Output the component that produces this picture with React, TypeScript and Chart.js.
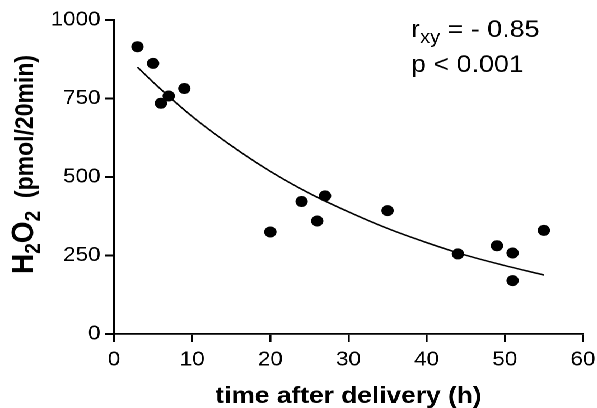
import { useEffect, useRef } from "react";
import { Chart, registerables } from "chart.js";

Chart.register(...registerables);

// Measured points
const timeHours = [3, 5, 6, 7, 9, 20, 24, 26, 27, 35, 44, 49, 51, 51, 55];
const h2o2Values = [915, 862, 735, 758, 782, 325, 422, 360, 440, 393, 255, 281, 258, 170, 330];

// Fitted curve
const fitTimes = [3, 5, 10, 15, 20, 25, 30, 35, 40, 45, 50, 55];
const fitValues = [850, 802, 693, 600, 518, 448, 389, 336, 291, 251, 218, 188];

// Tick labels
const xTicks = [0, 10, 20, 30, 40, 50, 60];
const yTicks = [0, 250, 500, 750, 1000];

const xTitle = "time after delivery (h)";
const statR = { main: "r", sub: "xy", rest: " = - 0.85" };
const statP = "p < 0.001";

const FONT = "'Liberation Sans', Arial, Helvetica, sans-serif";
const STRETCH = 1.12;
const W = 533;
const H = 408;

const textPlugin = {
  id: "customText",
  afterDraw(chart: any) {
    const ctx = chart.ctx as CanvasRenderingContext2D;
    const area = chart.chartArea;
    const xs = chart.scales.x;
    const ys = chart.scales.y;
    ctx.save();
    ctx.fillStyle = "#000";
    ctx.textBaseline = "alphabetic";
    ctx.textAlign = "left";

    // x title
    ctx.font = `bold 23.5px ${FONT}`;
    ctx.textAlign = "center";
    ctx.fillText(xTitle, (area.left + area.right) / 2, 403);
    ctx.textAlign = "left";

    // y title (rotated, with subscripts)
    ctx.save();
    ctx.translate(29.5, 274);
    ctx.rotate(-Math.PI / 2);
    const pieces = [
      { t: "H", s: 28, dy: 0 },
      { t: "2", s: 19, dy: 6 },
      { t: "O", s: 28, dy: 0 },
      { t: "2", s: 19, dy: 6 },
      { t: "  (pmol/20min)", s: 23, dy: 0 },
    ];
    let px = 0;
    for (const p of pieces) {
      ctx.font = `bold ${p.s}px ${FONT}`;
      ctx.fillText(p.t, px, p.dy);
      px += ctx.measureText(p.t).width;
    }
    ctx.restore();

    // statistics annotation
    const x0 = xs.getPixelForValue(38);
    let tx = x0;
    const by1 = ys.getPixelForValue(946);
    const by2 = ys.getPixelForValue(834);
    ctx.font = `24px ${FONT}`;
    ctx.fillText(statR.main, tx, by1);
    tx += ctx.measureText(statR.main).width;
    ctx.font = `18px ${FONT}`;
    ctx.fillText(statR.sub, tx, by1 + 6);
    tx += ctx.measureText(statR.sub).width;
    ctx.font = `24px ${FONT}`;
    ctx.fillText(statR.rest, tx, by1);
    ctx.fillText(statP, x0, by2);

    ctx.restore();
  },
};

export default function App() {
  const ref = useRef<HTMLCanvasElement | null>(null);

  useEffect(() => {
    if (!ref.current) return;
    const chart = new Chart(ref.current, {
      type: "scatter",
      data: {
        datasets: [
          {
            type: "line",
            data: fitTimes.map((t, i) => ({ x: t, y: fitValues[i] })),
            borderColor: "#000",
            borderWidth: 1.5,
            pointRadius: 0,
            fill: false,
            cubicInterpolationMode: "monotone",
          } as any,
          {
            type: "scatter",
            data: timeHours.map((t, i) => ({ x: t, y: h2o2Values[i] })),
            backgroundColor: "#000",
            borderColor: "#000",
            pointRadius: 5,
            pointHoverRadius: 5,
          },
        ],
      },
      options: {
        responsive: false,
        animation: false,
        devicePixelRatio: 2,
        layout: { padding: { left: 0, top: 20, right: 12.5, bottom: 0 } },
        plugins: {
          legend: { display: false },
          tooltip: { enabled: false },
        },
        scales: {
          x: {
            type: "linear",
            min: 0,
            max: 60,
            afterBuildTicks: (s: any) => {
              s.ticks = xTicks.map((v) => ({ value: v }));
            },
            afterFit: (s: any) => {
              s.height = 74;
              s.paddingLeft = 0;
              s.paddingRight = 0;
            },
            grid: {
              drawOnChartArea: false,
              drawTicks: true,
              tickLength: 8,
              color: "#000",
              lineWidth: 1.8,
            },
            border: { display: true, color: "#000", width: 1.8 },
            ticks: {
              color: "#000",
              padding: 6,
              font: { family: FONT, size: 20 },
              maxRotation: 0,
              callback: (v: any) => String(v),
            },
          },
          y: {
            type: "linear",
            min: 0,
            max: 1000,
            afterBuildTicks: (s: any) => {
              s.ticks = yTicks.map((v) => ({ value: v }));
            },
            afterFit: (s: any) => {
              s.width = 101.8;
              s.paddingTop = 0;
              s.paddingBottom = 0;
            },
            grid: {
              drawOnChartArea: false,
              drawTicks: true,
              tickLength: 8,
              color: "#000",
              lineWidth: 2,
            },
            border: { display: true, color: "#000", width: 2 },
            ticks: {
              color: "#000",
              padding: 4,
              font: { family: FONT, size: 20 },
              callback: (v: any) => String(v),
            },
          },
        },
      },
      plugins: [textPlugin],
    });
    return () => chart.destroy();
  }, []);

  return (
    <div
      style={{
        position: "absolute",
        left: 0,
        top: 0,
        width: W,
        height: H,
        background: "#fff",
        transform: `scaleX(${STRETCH})`,
        transformOrigin: "0 0",
      }}
    >
      <canvas ref={ref} width={W} height={H} style={{ width: W, height: H, display: "block" }} />
    </div>
  );
}
